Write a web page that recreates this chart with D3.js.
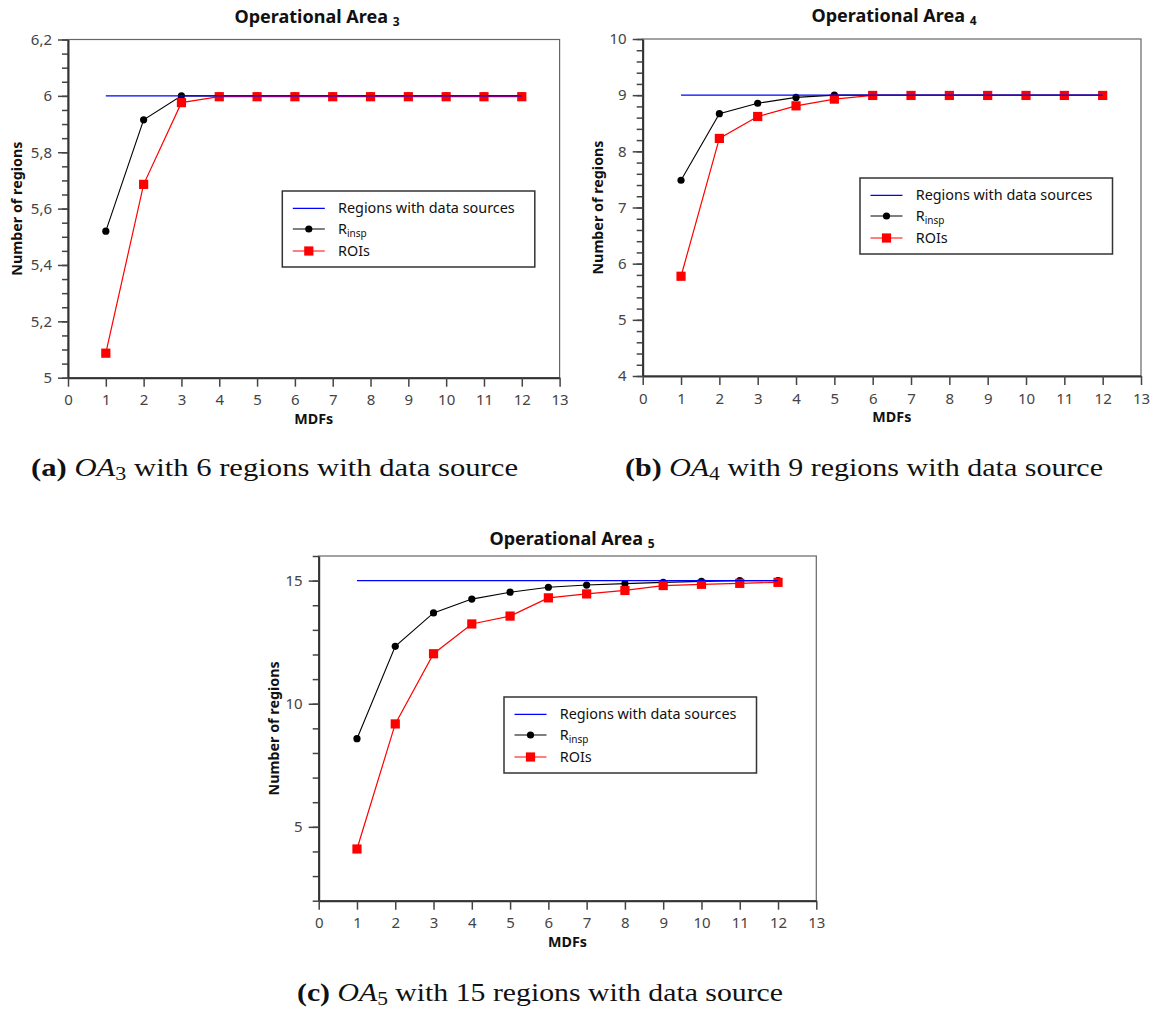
<!DOCTYPE html>
<html>
<head>
<meta charset="utf-8">
<script src="https://cdn.jsdelivr.net/npm/d3@7"></script>
<style>
  html, body { margin: 0; padding: 0; background: #fff; }
  svg { display: block; }
</style>
</head>
<body>
<svg id="fig" width="1153" height="1009"></svg>
<script>
// ---------------- DATA ----------------
const mdfs = [1, 2, 3, 4, 5, 6, 7, 8, 9, 10, 11, 12];
const xTicks = [0, 1, 2, 3, 4, 5, 6, 7, 8, 9, 10, 11, 12, 13];

// Operational Area 3
const oa3Regions = [6, 6, 6, 6, 6, 6, 6, 6, 6, 6, 6, 6];
const oa3Rinsp   = [5.52, 5.915, 6.0, 6.0, 6.0, 6.0, 6.0, 6.0, 6.0, 6.0, 6.0, 6.0];
const oa3ROIs    = [5.087, 5.686, 5.976, 5.997, 5.997, 5.997, 5.997, 5.997, 5.997, 5.997, 5.997, 5.997];
const oa3YTicks  = [5, 5.2, 5.4, 5.6, 5.8, 6, 6.2];
const oa3YLabels = ["5", "5,2", "5,4", "5,6", "5,8", "6", "6,2"];

// Operational Area 4
const oa4Regions = [9, 9, 9, 9, 9, 9, 9, 9, 9, 9, 9, 9];
const oa4Rinsp   = [7.485, 8.67, 8.856, 8.96, 9.0, 9.0, 9.0, 9.0, 9.0, 9.0, 9.0, 9.0];
const oa4ROIs    = [5.776, 8.23, 8.62, 8.81, 8.93, 8.995, 8.995, 8.995, 8.995, 8.995, 8.995, 8.995];
const oa4YTicks  = [4, 5, 6, 7, 8, 9, 10];
const oa4YLabels = ["4", "5", "6", "7", "8", "9", "10"];

// Operational Area 5
const oa5Regions = [15, 15, 15, 15, 15, 15, 15, 15, 15, 15, 15, 15];
const oa5Rinsp   = [8.58, 12.33, 13.69, 14.25, 14.53, 14.73, 14.82, 14.88, 14.93, 14.97, 15.0, 15.0];
const oa5ROIs    = [4.10, 9.18, 12.03, 13.24, 13.56, 14.30, 14.46, 14.60, 14.80, 14.85, 14.89, 14.93];
const oa5YTicks  = [5, 10, 15];
const oa5YLabels = ["5", "10", "15"];

const seriesNames = ["Regions with data sources", "R", "ROIs"];
const captionTexts = [
  {tag: "(a)", oa: "OA", sub: "3", rest: " with 6 regions with data source"},
  {tag: "(b)", oa: "OA", sub: "4", rest: " with 9 regions with data source"},
  {tag: "(c)", oa: "OA", sub: "5", rest: " with 15 regions with data source"}
];

// ---------------- LAYOUT ----------------
const charts = [
  {sub: "3", x0: 68, x1: 559.6, y0: 39.5, y1: 377.7, yDomain: [5, 6.2], yMinorStep: 0.05,
   yTicks: oa3YTicks, yLabels: oa3YLabels, regions: oa3Regions, rinsp: oa3Rinsp, rois: oa3ROIs,
   legX: 282.3, legY: 191, ylabX: 17, titleX: 317, titleY: 23},
  {sub: "4", x0: 642.7, x1: 1141, y0: 39, y1: 376, yDomain: [4, 10], yMinorStep: 0.2,
   yTicks: oa4YTicks, yLabels: oa4YLabels, regions: oa4Regions, rinsp: oa4Rinsp, rois: oa4ROIs,
   legX: 860, legY: 178, ylabX: 597.5, titleX: 894, titleY: 22},
  {sub: "5", x0: 318.7, x1: 816.3, y0: 556, y1: 900.7, yDomain: [2, 16], yMinorStep: 1,
   yTicks: oa5YTicks, yLabels: oa5YLabels, regions: oa5Regions, rinsp: oa5Rinsp, rois: oa5ROIs,
   legX: 504, legY: 697, ylabX: 273.5, titleX: 572, titleY: 545}
];
const captionPos = [{x: 31, y: 476, w: 487}, {x: 625, y: 476, w: 478}, {x: 297, y: 1001, w: 486}];

const FONT = "'Noto Sans', 'Open Sans', sans-serif";
const svg = d3.select("#fig");

charts.forEach(c => {
  const x = d3.scaleLinear().domain([0, 13]).range([c.x0, c.x1]);
  const y = d3.scaleLinear().domain(c.yDomain).range([c.y1, c.y0]);
  const g = svg.append("g");

  // frame
  g.append("rect")
    .attr("x", c.x0).attr("y", c.y0)
    .attr("width", c.x1 - c.x0).attr("height", c.y1 - c.y0)
    .attr("fill", "none").attr("stroke", "#666").attr("stroke-width", 1.2);

  // minor y ticks
  const minor = d3.range(c.yDomain[0], c.yDomain[1] + 1e-9, c.yMinorStep);
  g.append("g").attr("transform", `translate(${c.x0},0)`)
    .call(d3.axisLeft(y).tickValues(minor).tickSize(6).tickSizeOuter(0).tickFormat(""))
    .call(a => a.select(".domain").remove())
    .call(a => a.selectAll("line").attr("stroke", "#444").attr("stroke-width", 1.5));

  // major y axis
  g.append("g").attr("transform", `translate(${c.x0},0)`)
    .call(d3.axisLeft(y).tickValues(c.yTicks).tickSize(10).tickSizeOuter(0).tickPadding(6)
      .tickFormat((d, i) => c.yLabels[i]))
    .call(a => a.select(".domain").attr("stroke", "#333").attr("stroke-width", 2))
    .call(a => a.selectAll("line").attr("stroke", "#444").attr("stroke-width", 1.5))
    .call(a => a.selectAll("text").attr("fill", "#444").style("font-family", FONT).style("font-size", "15px"));

  // x axis
  g.append("g").attr("transform", `translate(0,${c.y1})`)
    .call(d3.axisBottom(x).tickValues(xTicks).tickSize(9).tickSizeOuter(0).tickPadding(8))
    .call(a => a.select(".domain").attr("stroke", "#333").attr("stroke-width", 2))
    .call(a => a.selectAll("line").attr("stroke", "#444").attr("stroke-width", 1.5))
    .call(a => a.selectAll("text").attr("fill", "#444").style("font-family", FONT).style("font-size", "15px"));

  // axis labels
  g.append("text").attr("x", (c.x0 + c.x1) / 2).attr("y", c.y1 + 46)
    .attr("text-anchor", "middle").style("font-family", FONT).style("font-size", "14.3px")
    .style("font-weight", "bold").attr("fill", "#111").text("MDFs");
  g.append("text")
    .attr("transform", `translate(${c.ylabX},${(c.y0 + c.y1) / 2}) rotate(-90)`)
    .attr("text-anchor", "middle").attr("dy", "0.35em")
    .style("font-family", FONT).style("font-size", "14.3px").style("font-weight", "bold")
    .attr("fill", "#111").text("Number of regions");

  // title
  const t = g.append("text").attr("x", c.titleX).attr("y", c.titleY)
    .attr("text-anchor", "middle").style("font-family", FONT).style("font-weight", "bold")
    .style("font-size", "18px").attr("fill", "#111");
  t.append("tspan").text("Operational Area ");
  t.append("tspan").attr("dy", 3).style("font-size", "12px").text(c.sub);

  const line = d3.line().x((d, i) => x(mdfs[i])).y(d => y(d));

  // Rinsp (black)
  g.append("path").datum(c.rinsp).attr("d", line)
    .attr("fill", "none").attr("stroke", "#000").attr("stroke-width", 1.1);
  g.selectAll(null).data(c.rinsp).join("circle")
    .attr("cx", (d, i) => x(mdfs[i])).attr("cy", d => y(d)).attr("r", 3.6).attr("fill", "#000");

  // ROIs (red)
  g.append("path").datum(c.rois).attr("d", line)
    .attr("fill", "none").attr("stroke", "#ff0000").attr("stroke-width", 1.2);
  g.selectAll(null).data(c.rois).join("rect")
    .attr("x", (d, i) => x(mdfs[i]) - 4.6).attr("y", d => y(d) - 4.6)
    .attr("width", 9.2).attr("height", 9.2).attr("fill", "#ff0000");

  // Regions with data sources (blue)
  g.append("path").datum(c.regions).attr("d", line)
    .attr("fill", "none").attr("stroke", "#0000ff").attr("stroke-width", 1.3);

  // legend
  const L = g.append("g").attr("transform", `translate(${c.legX},${c.legY})`);
  L.append("rect").attr("x", 0).attr("y", 0).attr("width", 252.5).attr("height", 76)
    .attr("fill", "#fff").attr("stroke", "#333").attr("stroke-width", 1.5);
  const rows = [17.3, 38, 60];
  const sx0 = 10.5, sx1 = 42.5, tx = 55.7;
  L.append("line").attr("x1", sx0).attr("x2", sx1).attr("y1", rows[0]).attr("y2", rows[0])
    .attr("stroke", "#0000ff").attr("stroke-width", 1.3);
  L.append("line").attr("x1", sx0).attr("x2", sx1).attr("y1", rows[1]).attr("y2", rows[1])
    .attr("stroke", "#000").attr("stroke-width", 1.1);
  L.append("circle").attr("cx", (sx0 + sx1) / 2).attr("cy", rows[1]).attr("r", 3.6).attr("fill", "#000");
  L.append("line").attr("x1", sx0).attr("x2", sx1).attr("y1", rows[2]).attr("y2", rows[2])
    .attr("stroke", "#ff0000").attr("stroke-width", 1.2);
  L.append("rect").attr("x", (sx0 + sx1) / 2 - 4.6).attr("y", rows[2] - 4.6)
    .attr("width", 9.2).attr("height", 9.2).attr("fill", "#ff0000");

  const txt = (yy) => L.append("text").attr("x", tx).attr("y", yy).attr("dy", "0.35em")
    .style("font-family", FONT).style("font-size", "14.4px").attr("fill", "#111");
  txt(rows[0]).text(seriesNames[0]);
  const r2 = txt(rows[1]);
  r2.append("tspan").text(seriesNames[1]);
  r2.append("tspan").attr("dy", 3).style("font-size", "10px").text("insp");
  txt(rows[2]).text(seriesNames[2]);
});

// captions
captionTexts.forEach((cap, i) => {
  const p = captionPos[i];
  const t = svg.append("text").attr("x", p.x).attr("y", p.y).attr("text-anchor", "start")
    .attr("textLength", p.w).attr("lengthAdjust", "spacingAndGlyphs")
    .style("font-family", "'Liberation Serif', 'DejaVu Serif', serif").style("font-size", "25px")
    .attr("fill", "#111");
  t.append("tspan").style("font-weight", "bold").text(cap.tag + " ");
  t.append("tspan").style("font-style", "italic").text(cap.oa);
  t.append("tspan").attr("dy", 4).style("font-size", "18px").text(cap.sub);
  t.append("tspan").attr("dy", -4).text(cap.rest);
});
</script>
</body>
</html>
